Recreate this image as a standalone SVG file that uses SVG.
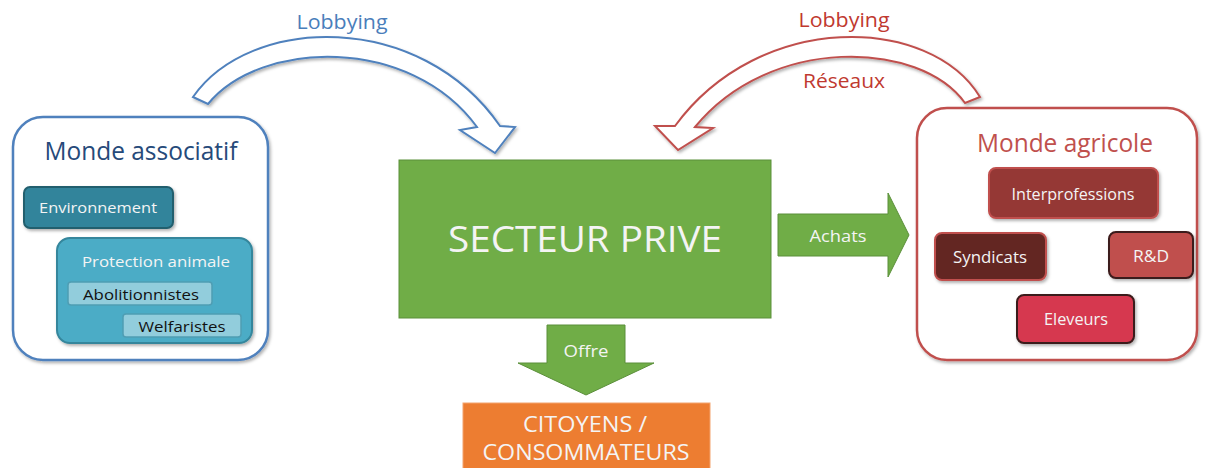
<svg xmlns="http://www.w3.org/2000/svg" width="1208" height="468" viewBox="0 0 1208 468">
<defs>
<filter id="sh" x="-10%" y="-10%" width="130%" height="130%">
<feDropShadow dx="1.5" dy="2" stdDeviation="1.8" flood-color="#000" flood-opacity="0.3"/>
</filter>
<style>
text{font-family:"Open Sans","Liberation Sans",Arial,sans-serif;text-anchor:middle}
.w{fill:#f4f4f4}
.k{fill:#111}
.blue{fill:#4a7ebb}
.red{fill:#c0392f}
.group-b{fill:#fff;stroke:#4f81bd;stroke-width:2.5}
.group-r{fill:#fff;stroke:#c0504d;stroke-width:2.5}
.green{fill:#70ad47;stroke:#5b8f3a;stroke-width:1}
</style>
</defs>
<rect width="1208" height="468" fill="#fff"/>

<g id="connectors">
<g id="lobbying-blue">
<path d="M193,97 C250,15 420,10 500,126 L515,127 L495,153 L460,130 L477,127 C410,35 260,40 208,104 Z" fill="#fff" stroke="#4f81bd" stroke-width="2" stroke-linejoin="miter" filter="url(#sh)"/>
<text x="342" y="29" font-size="20" class="blue" textLength="91" lengthAdjust="spacingAndGlyphs">Lobbying</text>
</g>
<g id="lobbying-red">
<path d="M980,97 C930,15 760,10 675,126 L655,126 L678,150 L713,128 L695,127 C770,35 920,40 965,103 Z" fill="#fff" stroke="#c0504d" stroke-width="2" filter="url(#sh)"/>
<text x="844" y="27" font-size="20" class="red" textLength="91" lengthAdjust="spacingAndGlyphs">Lobbying</text>
<text x="844" y="88" font-size="20" class="red" textLength="82" lengthAdjust="spacingAndGlyphs">Réseaux</text>
</g>
<g id="achats">
<path d="M778,214 L888,214 L888,193 L909,235 L888,277 L888,256 L778,256 Z" class="green"/>
<text x="838" y="242" font-size="17" class="w" textLength="57" lengthAdjust="spacingAndGlyphs">Achats</text>
</g>
<g id="offre">
<path d="M547,325 L625,325 L625,363 L654,363 L586,395 L518,363 L547,363 Z" class="green"/>
<text x="586" y="357" font-size="16" class="w" textLength="45" lengthAdjust="spacingAndGlyphs">Offre</text>
</g>
</g>

<g id="monde-associatif">
<rect x="13" y="117" width="255" height="243" rx="30" class="group-b" filter="url(#sh)"/>
<text x="141" y="160" font-size="25" fill="#264a7a" textLength="193" lengthAdjust="spacingAndGlyphs">Monde associatif</text>
</g>
<g id="environnement">
<rect x="24" y="187" width="149" height="41" rx="6" fill="#31849b" stroke="#215e6e" stroke-width="2" filter="url(#sh)"/>
<text x="98" y="213" font-size="15" class="w" textLength="118" lengthAdjust="spacingAndGlyphs">Environnement</text>
</g>
<g id="protection-animale">
<rect x="57" y="238" width="195" height="105" rx="13" fill="#4bacc6" stroke="#34869c" stroke-width="2" filter="url(#sh)"/>
<text x="156" y="267" font-size="15" class="w" textLength="148" lengthAdjust="spacingAndGlyphs">Protection animale</text>
</g>
<g id="abolitionnistes">
<rect x="68" y="282" width="144" height="23" rx="3" fill="#92cddc" stroke="#4f9db3" stroke-width="1.5"/>
<text x="141" y="300" font-size="15" class="k" textLength="116" lengthAdjust="spacingAndGlyphs">Abolitionnistes</text>
</g>
<g id="welfaristes">
<rect x="123" y="314" width="118" height="23" rx="3" fill="#92cddc" stroke="#4f9db3" stroke-width="1.5"/>
<text x="182" y="332" font-size="15" class="k" textLength="87" lengthAdjust="spacingAndGlyphs">Welfaristes</text>
</g>

<g id="secteur-prive">
<rect x="399" y="160" width="372" height="158" class="green"/>
<text x="585" y="252" font-size="37" class="w" textLength="274" lengthAdjust="spacingAndGlyphs">SECTEUR PRIVE</text>
</g>

<g id="citoyens">
<rect x="463" y="403" width="247" height="70" fill="#ed7d31" stroke="#f4a46e" stroke-width="1"/>
<text x="585" y="432" font-size="22" class="w" textLength="124" lengthAdjust="spacingAndGlyphs">CITOYENS /</text>
<text x="586" y="460" font-size="22" class="w" textLength="207" lengthAdjust="spacingAndGlyphs">CONSOMMATEURS</text>
</g>

<g id="monde-agricole">
<rect x="917" y="108" width="280" height="252" rx="30" class="group-r" filter="url(#sh)"/>
<text x="1065" y="152" font-size="25" fill="#c0504d" textLength="176" lengthAdjust="spacingAndGlyphs">Monde agricole</text>
</g>
<g id="interprofessions">
<rect x="989" y="168" width="169" height="50" rx="7" fill="#953735" stroke="#c0504d" stroke-width="2" filter="url(#sh)"/>
<text x="1073" y="200" font-size="16" class="w" textLength="123" lengthAdjust="spacingAndGlyphs">Interprofessions</text>
</g>
<g id="syndicats">
<rect x="935" y="233" width="111" height="47" rx="7" fill="#632523" stroke="#c0504d" stroke-width="2" filter="url(#sh)"/>
<text x="990" y="263" font-size="16" class="w" textLength="74" lengthAdjust="spacingAndGlyphs">Syndicats</text>
</g>
<g id="rd">
<rect x="1109" y="232" width="84" height="46" rx="7" fill="#c0504d" stroke="#3b1a1a" stroke-width="2" filter="url(#sh)"/>
<text x="1151" y="262" font-size="16" class="w" textLength="36" lengthAdjust="spacingAndGlyphs">R&amp;D</text>
</g>
<g id="eleveurs">
<rect x="1017" y="295" width="117" height="48" rx="7" fill="#d6394f" stroke="#3b1a1a" stroke-width="2" filter="url(#sh)"/>
<text x="1076" y="325" font-size="16" class="w" textLength="64" lengthAdjust="spacingAndGlyphs">Eleveurs</text>
</g>
</svg>
